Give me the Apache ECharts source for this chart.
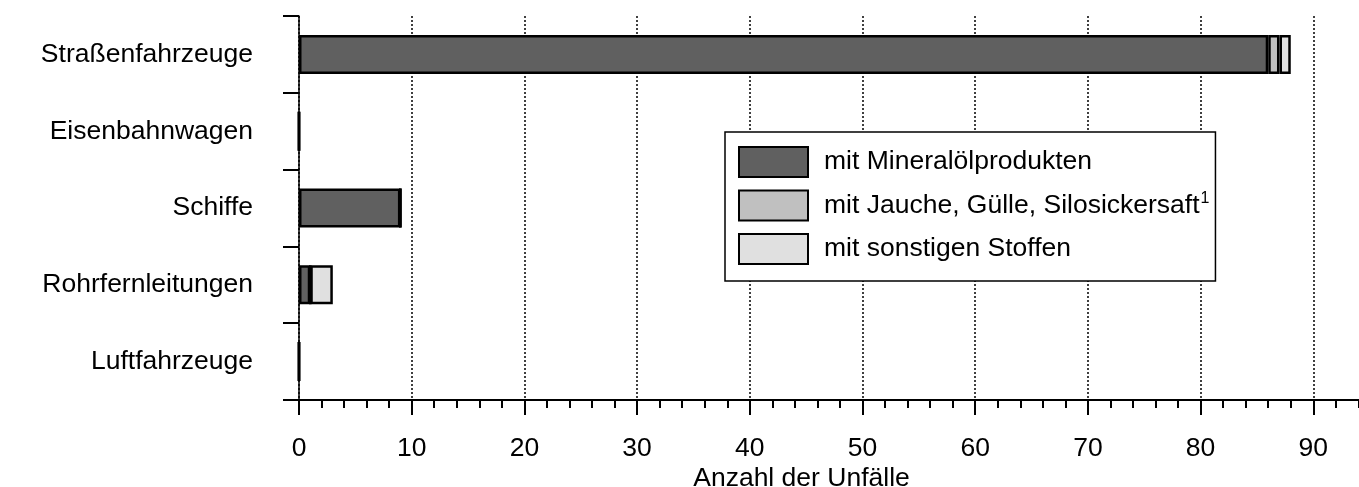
<!DOCTYPE html>
<html>
<head>
<meta charset="utf-8">
<script src="https://cdn.jsdelivr.net/npm/echarts@6/dist/echarts.min.js"></script>
<style>
html,body{margin:0;padding:0;background:#fff;}
#chart{width:1359px;height:487px;}
</style>
</head>
<body>
<div id="chart"></div>
<script>
const categories = ['Straßenfahrzeuge', 'Eisenbahnwagen', 'Schiffe', 'Rohrfernleitungen', 'Luftfahrzeuge'];
const seriesNames = ['mit Mineralölprodukten', 'mit Jauche, Gülle, Silosickersaft', 'mit sonstigen Stoffen'];
const mineraloel = [86, 0, 9, 1, 0];
const jauche = [1, 0, 0, 0, 0];
const sonstige = [1, 0, 0, 2, 0];
const xMin = 0, xMax = 100, xInterval = 10;
const xAxisName = 'Anzahl der Unfälle';
const footnoteMark = '1';

const FONT = '"Liberation Sans", Arial, sans-serif';
const FS = 26.5;
const colors = ['#606060', '#c0c0c0', '#e0e0e0'];
const values = [mineraloel, jauche, sonstige];

const chart = echarts.init(document.getElementById('chart'), null, {renderer: 'canvas'});
const option = {
  animation: false,
  backgroundColor: '#fff',
  textStyle: {fontFamily: FONT},
  grid: {left: 299, right: -67, top: 16, bottom: 87, containLabel: false, outerBoundsMode: 'none'},
  legend: {
    orient: 'vertical',
    left: 725,
    top: 132,
    padding: [14, 6, 16, 13],
    itemWidth: 69,
    itemHeight: 30,
    itemGap: 11.5,
    icon: 'rect',
    backgroundColor: '#fff',
    borderColor: '#000',
    borderWidth: 1.5,
    data: seriesNames,
    formatter: function (name) {
      if (name === seriesNames[1]) return '{t|' + name + '}{s|' + footnoteMark + '}';
      return '{t|' + name + '}';
    },
    textStyle: {
      color: '#000',
      fontFamily: FONT,
      fontSize: FS,
      padding: [0, 0, 0, 11],
      rich: {
        t: {fontSize: FS, fontFamily: FONT, color: '#000', lineHeight: 30},
        s: {fontSize: 16, fontFamily: FONT, color: '#000', verticalAlign: 'top', lineHeight: 30, padding: [0, 0, 10, 1]}
      }
    }
  },
  xAxis: {
    type: 'value',
    min: xMin,
    max: xMax,
    interval: xInterval,
    name: xAxisName,
    nameLocation: 'middle',
    nameGap: 65,
    nameMoveOverlap: false,
    nameTextStyle: {fontSize: FS, fontFamily: FONT, color: '#000', padding: [0, 122, 0, 0]},
    axisLine: {show: true, lineStyle: {color: '#000', width: 2}},
    axisTick: {show: true, length: 15, inside: false, lineStyle: {color: '#000', width: 2}},
    minorTick: {show: true, splitNumber: 5, length: 8, lineStyle: {color: '#000', width: 2}},
    axisLabel: {show: true, margin: 35, fontSize: FS, fontFamily: FONT, color: '#000'},
    splitLine: {show: true, lineStyle: {color: '#000', width: 1.5, type: [2, 2]}}
  },
  yAxis: {
    type: 'category',
    data: categories,
    inverse: true,
    axisLine: {show: true, lineStyle: {color: '#000', width: 1.5}},
    axisTick: {show: true, length: 16, inside: false, alignWithLabel: false, lineStyle: {color: '#000', width: 2}},
    axisLabel: {show: true, margin: 46, fontSize: FS, fontFamily: FONT, color: '#000'},
    splitLine: {show: false}
  },
  series: seriesNames.map(function (name, i) {
    return {
      name: name,
      type: 'bar',
      stack: 'total',
      barWidth: 39,
      data: values[i],
      itemStyle: {color: colors[i], borderColor: '#000', borderWidth: 2.5},
      emphasis: {disabled: true}
    };
  })
};
chart.setOption(option);
</script>
</body>
</html>
